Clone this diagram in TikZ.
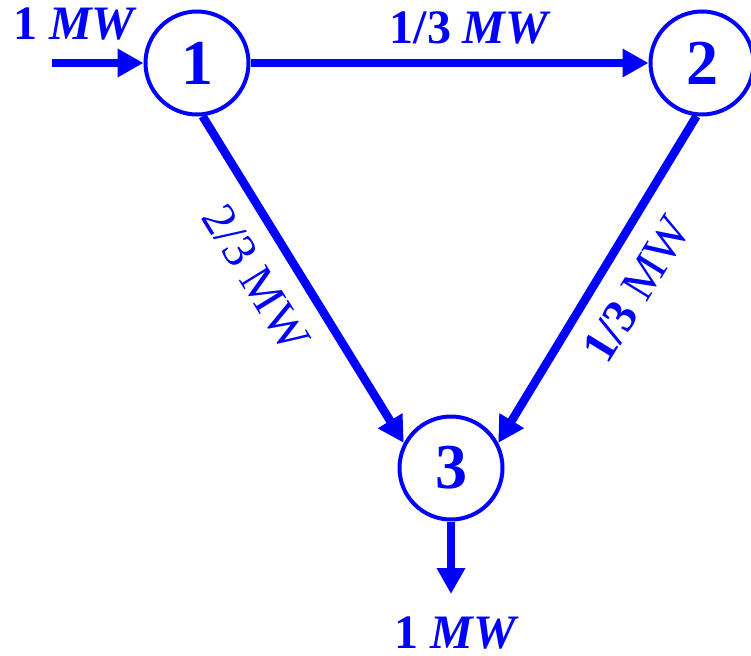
\documentclass[tikz,border=0pt]{standalone}
\usepackage{fontspec}
\setmainfont{Liberation Serif}
\usetikzlibrary{arrows.meta}
\definecolor{netblue}{RGB}{0,0,255}
\tikzset{
  bus/.style={circle,draw=netblue,line width=4pt,minimum size=103pt,inner sep=0pt,
    text=netblue,font=\fontsize{64}{70}\selectfont\bfseries},
  flow/.style={draw=netblue,line width=8.5pt,-{Triangle[length=26pt,width=27pt]}},
  lbl/.style={text=netblue,inner sep=0pt,font=\fontsize{48}{52}\selectfont},
}
\begin{document}
\begin{tikzpicture}[x=1pt,y=-1pt]
\useasboundingbox (0,0) rectangle (751,655);
\node[bus] (n1) at (197,63) {1};
\node[bus] (n2) at (702,63) {2};
\node[bus] (n3) at (451,468) {3};
\coordinate (in) at (52,63);
\coordinate (out) at (451,594);
\draw[flow] (in) -- (n1.west);
\draw[flow] (n1.east) -- (n2.west);
\draw[flow] (n1.-84) -- (n3.152);
\draw[flow] (n2.-96) -- (n3.28);
\draw[flow] (n3.south) -- (out);
\node[lbl] (lin) at (74,24) {\bfseries 1 \itshape MW};
\node[lbl] (l12) at (469,28) {\bfseries 1/3 \itshape MW};
\node[lbl] (lout) at (455,633) {\bfseries 1 \itshape MW};
\node[lbl,rotate=-58.4] (l13) at (256,278) {2/3 MW};
\node[lbl,rotate=58.3] (l23) at (637,289) {\bfseries 1/3 \mdseries MW};
\end{tikzpicture}
\end{document}
